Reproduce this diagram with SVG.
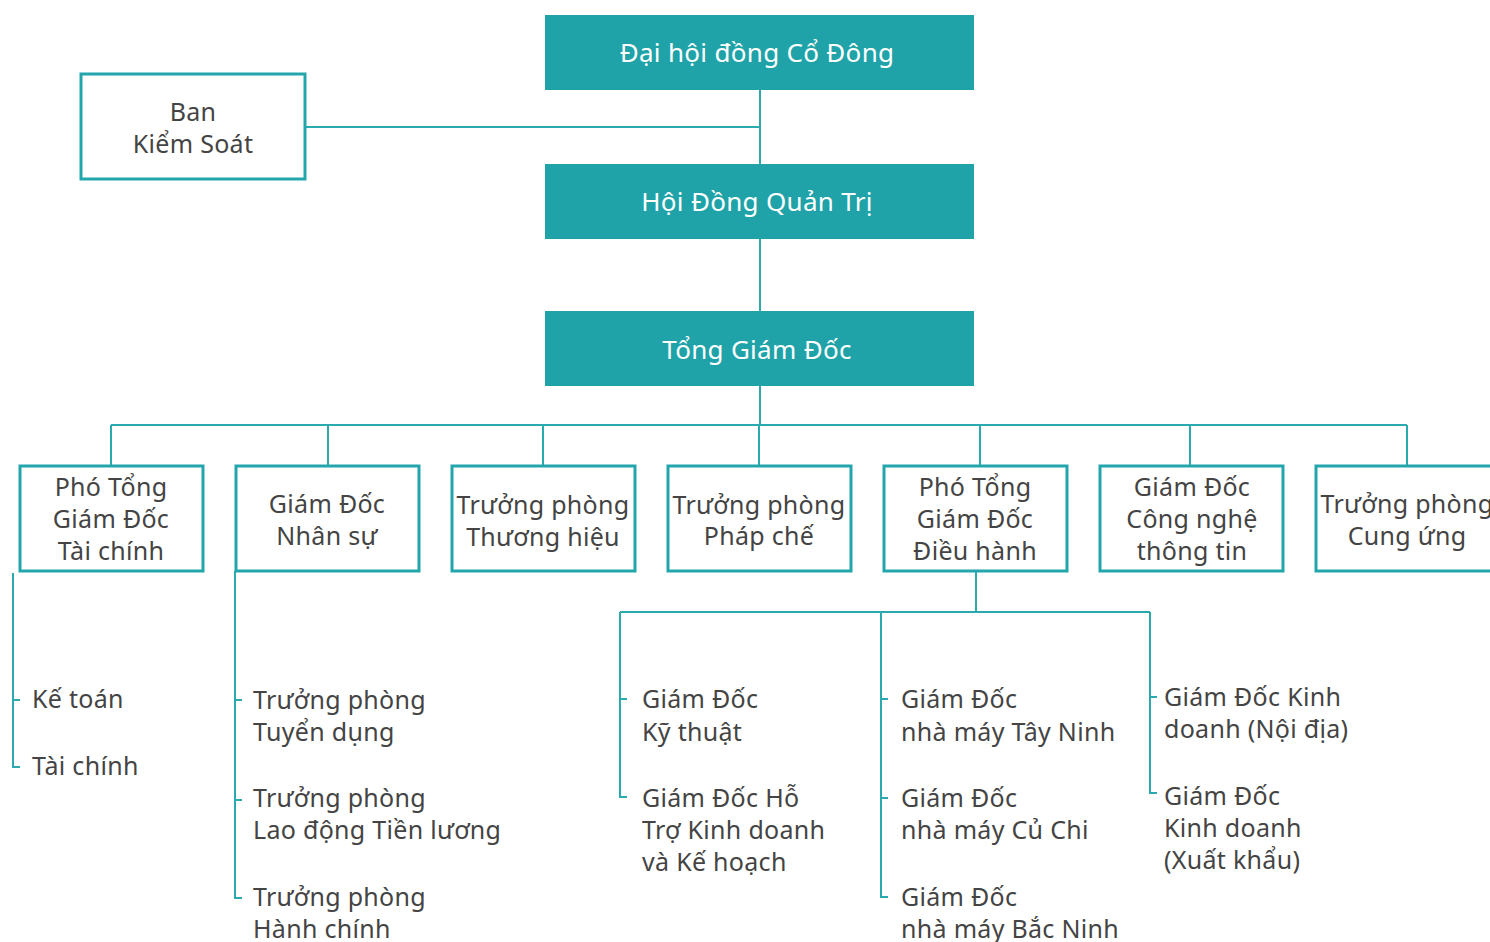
<svg xmlns="http://www.w3.org/2000/svg" width="1490" height="942" viewBox="0 0 1490 942">
<style>
.top{fill:#1fa3a8}
.box{fill:#fff;stroke:#22a6ab;stroke-width:3}
.ln{fill:none;stroke:#2aa9ae;stroke-width:2}
text{font-family:"Noto Sans","DejaVu Sans",sans-serif;font-size:25px;letter-spacing:0.3px;fill:#444}
.w{fill:#fff;font-size:26px}
.c{text-anchor:middle}
</style>
<rect width="1490" height="942" fill="#fff"/>
<g id="connectors">
<path class="ln" d="M760 90V311M306 127H760M760 386V425M111 425H1407M111 425V465M328 425V465M543 425V465M759 425V465M980 425V465M1190 425V465M1407 425V465"/>
<path class="ln" d="M13 573V767H20M13 700H20"/>
<path class="ln" d="M235 571V898H242M235 700H242M235 800H242"/>
<path class="ln" d="M976 571V612M620 612H1150M620 612V797H627M620 699H627M881 612V897H888M881 699H888M881 798H888M1150 612V793H1157M1150 697H1157"/>
</g>
<g id="n-dhdcd"><rect class="top" x="545" y="15" width="429" height="75"/><text class="w c" x="757" y="62">Đại hội đồng Cổ Đông</text></g>
<g id="n-bks"><rect class="box" x="81" y="74" width="224" height="105"/><text class="c" x="193" y="121">Ban</text><text class="c" x="193" y="153">Kiểm Soát</text></g>
<g id="n-hdqt"><rect class="top" x="545" y="164" width="429" height="75"/><text class="w c" x="757" y="211">Hội Đồng Quản Trị</text></g>
<g id="n-tgd"><rect class="top" x="545" y="311" width="429" height="75"/><text class="w c" x="757" y="359">Tổng Giám Đốc</text></g>
<g id="n-ptgdtc"><rect class="box" x="20" y="466" width="183" height="105"/><text class="c" x="111" y="496">Phó Tổng</text><text class="c" x="111" y="528">Giám Đốc</text><text class="c" x="111" y="560">Tài chính</text></g>
<g id="n-gdns"><rect class="box" x="236" y="466" width="183" height="105"/><text class="c" x="327" y="513">Giám Đốc</text><text class="c" x="327" y="545">Nhân sự</text></g>
<g id="n-tpth"><rect class="box" x="452" y="466" width="183" height="105"/><text class="c" x="543" y="514">Trưởng phòng</text><text class="c" x="543" y="546">Thương hiệu</text></g>
<g id="n-tppc"><rect class="box" x="668" y="466" width="183" height="105"/><text class="c" x="759" y="514">Trưởng phòng</text><text class="c" x="759" y="545">Pháp chế</text></g>
<g id="n-ptgddh"><rect class="box" x="884" y="466" width="183" height="105"/><text class="c" x="975" y="496">Phó Tổng</text><text class="c" x="975" y="528">Giám Đốc</text><text class="c" x="975" y="560">Điều hành</text></g>
<g id="n-gdcntt"><rect class="box" x="1100" y="466" width="183" height="105"/><text class="c" x="1192" y="496">Giám Đốc</text><text class="c" x="1192" y="528">Công nghệ</text><text class="c" x="1192" y="560">thông tin</text></g>
<g id="n-tpcu"><rect class="box" x="1316" y="466" width="183" height="105"/><text class="c" x="1407" y="513">Trưởng phòng</text><text class="c" x="1407" y="545">Cung ứng</text></g>
<g id="n-kt"><text x="32" y="708">Kế toán</text></g>
<g id="n-tc"><text x="32" y="775">Tài chính</text></g>
<g id="n-tptd"><text x="253" y="709">Trưởng phòng</text><text x="253" y="741">Tuyển dụng</text></g>
<g id="n-tpld"><text x="253" y="807">Trưởng phòng</text><text x="253" y="839">Lao động Tiền lương</text></g>
<g id="n-tphc"><text x="253" y="906">Trưởng phòng</text><text x="253" y="938">Hành chính</text></g>
<g id="n-gdkt"><text x="642" y="708">Giám Đốc</text><text x="642" y="741">Kỹ thuật</text></g>
<g id="n-gdht"><text x="642" y="807">Giám Đốc Hỗ</text><text x="642" y="839">Trợ Kinh doanh</text><text x="642" y="871">và Kế hoạch</text></g>
<g id="n-gdtn"><text x="901" y="708">Giám Đốc</text><text x="901" y="741">nhà máy Tây Ninh</text></g>
<g id="n-gdcc"><text x="901" y="807">Giám Đốc</text><text x="901" y="839">nhà máy Củ Chi</text></g>
<g id="n-gdbn"><text x="901" y="906">Giám Đốc</text><text x="901" y="938">nhà máy Bắc Ninh</text></g>
<g id="n-gdnd"><text x="1164" y="706">Giám Đốc Kinh</text><text x="1164" y="738">doanh (Nội địa)</text></g>
<g id="n-gdxk"><text x="1164" y="805">Giám Đốc</text><text x="1164" y="837">Kinh doanh</text><text x="1164" y="869">(Xuất khẩu)</text></g>
</svg>
